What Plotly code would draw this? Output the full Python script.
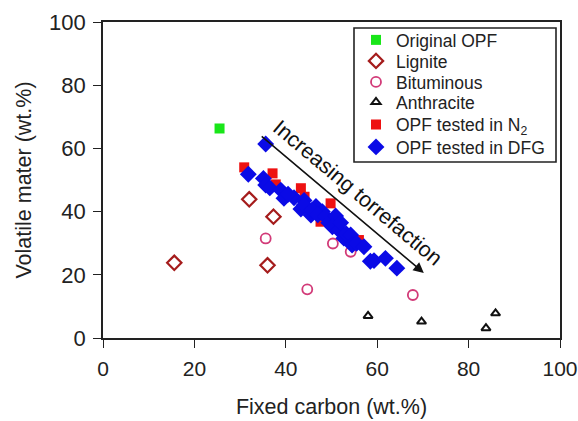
import plotly.graph_objects as go

orig_x = [25.5]
orig_y = [66.3]

lig_x = [15.6, 32.0, 37.3, 36.0]
lig_y = [23.8, 43.9, 38.4, 23.0]

bit_x = [35.6, 50.3, 54.2, 44.7, 67.8]
bit_y = [31.5, 29.9, 27.3, 15.4, 13.6]

ant_x = [58.0, 69.7, 83.8, 85.9]
ant_y = [7.0, 5.2, 3.1, 7.8]

n2_x = [30.9, 37.1, 37.8, 43.3, 44.1, 49.8, 47.6, 56.0, 45.0]
n2_y = [54.0, 52.1, 48.6, 47.4, 44.7, 42.6, 36.8, 31.0, 41.0]

dfg_x = [35.6, 31.8, 35.1, 35.6, 36.5, 38.9, 39.6, 41.8, 40.5, 44.0, 43.3, 44.0,
         45.5, 46.6, 45.8, 48.0, 47.0, 48.7, 49.4, 50.9, 50.2, 51.6, 52.0, 52.7,
         53.2, 54.2, 54.5, 55.5, 57.1, 58.5, 59.3, 61.8, 64.3]
dfg_y = [61.4, 51.8, 50.5, 48.4, 47.5, 46.8, 44.2, 44.4, 45.5, 43.5, 40.8, 42.0,
         38.9, 41.6, 40.5, 40.0, 39.0, 38.4, 36.5, 38.6, 35.2, 34.2, 36.5, 31.6,
         33.0, 32.6, 29.4, 30.0, 28.9, 24.3, 24.5, 25.2, 22.1]

x_ticks = [0, 20, 40, 60, 80, 100]
y_ticks = [0, 20, 40, 60, 80, 100]

# plot area in pixels (for paper-coordinate placement of legend rows)
PL, PR, PT, PB = 103, 560, 22, 338
def px_x(p):
    return (p - PL) / (PR - PL)
def px_y(p):
    return (PB - p) / (PB - PT)

row_centers = [40, 61, 82, 102, 124.5, 147]

fig = go.Figure()
fig.add_trace(go.Scatter(x=orig_x, y=orig_y, mode="markers", name="Original OPF",
                         legend="legend",
                         marker=dict(symbol="square", size=10, color="#19e619")))
fig.add_trace(go.Scatter(x=lig_x, y=lig_y, mode="markers", name="Lignite",
                         legend="legend2",
                         marker=dict(symbol="diamond-open", size=11, color="#a51c1c",
                                     line=dict(width=2.2, color="#a51c1c"))))
fig.add_trace(go.Scatter(x=bit_x, y=bit_y, mode="markers", name="Bituminous",
                         legend="legend3",
                         marker=dict(symbol="circle-open", size=10, color="#d23a78",
                                     line=dict(width=1.8, color="#d23a78"))))
fig.add_trace(go.Scatter(x=ant_x, y=ant_y, mode="markers", name="Anthracite",
                         legend="legend4",
                         marker=dict(symbol="triangle-up-open", size=8, color="#111111",
                                     line=dict(width=2, color="#111111"))))
fig.add_trace(go.Scatter(x=n2_x, y=n2_y, mode="markers", name="OPF tested in N<sub>2</sub>",
                         legend="legend5",
                         marker=dict(symbol="square", size=10, color="#ee1111")))
fig.add_trace(go.Scatter(x=dfg_x, y=dfg_y, mode="markers", name="OPF tested in DFG",
                         legend="legend6",
                         marker=dict(symbol="diamond", size=13, color="#0a0ae6")))

fig.add_annotation(x=70.2, y=20.6, ax=34.4, ay=64.2, xref="x", yref="y",
                   axref="x", ayref="y", text="", showarrow=True,
                   arrowhead=2, arrowsize=1.3, arrowwidth=1.6, arrowcolor="#111111")
fig.add_annotation(x=55.7, y=45.8, xref="x", yref="y", text="Increasing torrefaction",
                   showarrow=False, textangle=40,
                   font=dict(size=21.5, color="#111111"))

# legend frame
fig.add_shape(type="rect", xref="paper", yref="paper",
              x0=px_x(354), x1=px_x(556), y0=px_y(162), y1=px_y(28),
              line=dict(color="#222222", width=1.6), fillcolor="white", layer="below")

axis_common = dict(showline=True, linecolor="#222222", linewidth=1.6, mirror=True,
                   ticks="outside", ticklen=8, tickwidth=1.4, tickcolor="#222222",
                   showgrid=False, zeroline=False, automargin=False,
                   ticklabeloverflow="allow", ticklabelstandoff=3,
                   title_font=dict(size=21.5, color="#222222"))

fig.update_xaxes(range=[0, 100], tickvals=x_ticks, title_text="Fixed carbon (wt.%)",
                 title_standoff=20, tickfont=dict(size=21, color="#222222"),
                 **axis_common)
fig.update_yaxes(range=[0, 100], tickvals=y_ticks, title_text="Volatile mater (wt.%)",
                 title_standoff=12, tickfont=dict(size=22, color="#222222"),
                 **axis_common)

layout_legends = {}
for i, cy in enumerate(row_centers):
    key = "legend" if i == 0 else f"legend{i + 1}"
    layout_legends[key] = dict(x=px_x(356), y=px_y(cy), xanchor="left", yanchor="middle",
                               borderwidth=0, bgcolor="rgba(0,0,0,0)",
                               font=dict(size=17.5, color="#222222"), itemwidth=30)

fig.update_layout(
    width=578, height=421,
    margin=dict(l=PL, r=578 - PR, t=PT, b=421 - PB),
    plot_bgcolor="white", paper_bgcolor="white",
    font=dict(family="Liberation Sans, Arial, sans-serif", color="#222222"),
    showlegend=True,
    **layout_legends,
)

fig.write_html("out.html")
